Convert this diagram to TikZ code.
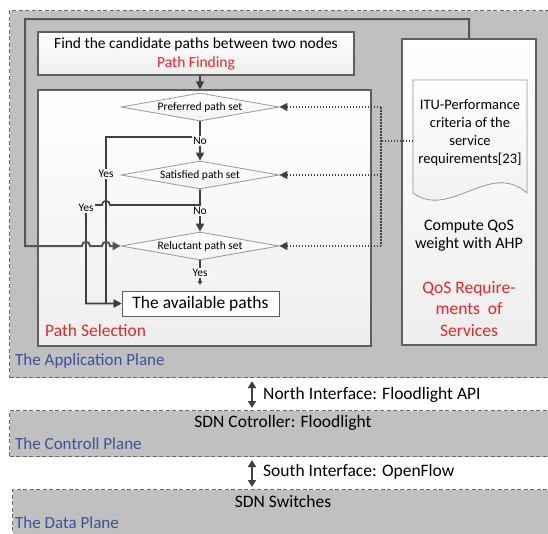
\documentclass[tikz,border=0pt]{standalone}
\usepackage{fontspec}
\setmainfont{Carlito}
\usetikzlibrary{arrows.meta,shapes.geometric}
\definecolor{planegray}{RGB}{192,192,192}
\definecolor{planeedge}{RGB}{105,105,105}
\definecolor{linegray}{RGB}{64,64,64}
\definecolor{frameline}{RGB}{85,85,85}
\definecolor{boxedge}{RGB}{95,95,95}
\definecolor{boxbot}{RGB}{238,238,238}
\definecolor{diaedge}{RGB}{150,150,150}
\definecolor{redtxt}{RGB}{232,38,38}
\definecolor{bluetxt}{RGB}{62,80,150}
\definecolor{ynbg}{RGB}{250,250,250}
\begin{document}
\begin{tikzpicture}[x=1pt,y=-1pt,
  plane/.style={draw=planeedge, dash pattern=on 4pt off 2.5pt, line width=1pt, fill=planegray, inner sep=0, anchor=north west},
  planelabel/.style={text=bluetxt, font=\fontsize{17}{20}\selectfont, anchor=west, inner sep=0},
  bigtext/.style={font=\fontsize{17.5}{21}\selectfont, inner sep=0},
  whitebox/.style={draw=boxedge, line width=1.2pt, inner sep=0, top color=white, bottom color=boxbot},
  decision/.style={diamond, draw=diaedge, line width=0.8pt, top color=white, bottom color=gray!10, minimum width=158pt, minimum height=28pt, inner sep=0, aspect=5.6, font=\fontsize{11.5}{13}\selectfont},
  flow/.style={draw=linegray, line width=1.6pt},
  tip/.style={-{Triangle[length=8pt,width=8pt]}},
  dots/.style={draw=linegray, line width=1.5pt, dash pattern=on 1.5pt off 1.5pt},
  yn/.style={font=\fontsize{11.5}{13}\selectfont, fill=ynbg, inner sep=1pt},
  biarrow/.style={draw=linegray, line width=2pt, {Triangle[length=7pt,width=8pt]}-{Triangle[length=7pt,width=8pt]}, shorten <=3pt, shorten >=2pt}
]
\useasboundingbox (0,0) rectangle (548,533);
\clip (0,0) rectangle (548,533);

% planes
\node[plane, minimum width=551pt, minimum height=367pt] (app) at (9,10) {};
\node[plane, minimum width=551pt, minimum height=46pt] (ctrl) at (9,410) {};
\node[plane, minimum width=548pt, minimum height=56pt] (data) at (12,489) {};
\node[planelabel] (applbl) at (15,361) {The Application Plane};
\node[planelabel] (ctrllbl) at (15,444) {The Controll Plane};
\node[planelabel] (datalbl) at (15,523) {The Data Plane};
\node[bigtext] (ctrltxt) at (283,423) {SDN Cotroller: Floodlight};
\node[bigtext] (datatxt) at (283,501) {SDN Switches};

% boxes
\node[whitebox, minimum width=316pt, minimum height=43pt, align=center, font=\fontsize{15.5}{19}\selectfont] (pf) at (196,53.5) {Find the candidate paths between two nodes\\\textcolor{redtxt}{Path Finding}};
\node[whitebox, minimum width=333pt, minimum height=256pt] (ps) at (204.5,218) {};
\node[bigtext, text=redtxt, anchor=west] (pslbl) at (45,330) {Path Selection};
\node[whitebox, minimum width=134pt, minimum height=306pt] (qos) at (469,192) {};

% document
\path[draw=diaedge, line width=0.8pt, top color=white, bottom color=gray!12] (413,80) -- (527,80) -- (527,193) .. controls (490,160) and (450,220) .. (413,193) -- cycle;
\coordinate (docw) at (413,141);
\node[align=center, font=\fontsize{14.5}{18}\selectfont, inner sep=0] (itu) at (470,133) {ITU-Performance\\criteria of the\\service\\requirements[23]};
\node[align=center, font=\fontsize{16}{18}\selectfont, inner sep=0] (ahp) at (469,236) {Compute QoS\\weight with AHP};
\node[align=center, font=\fontsize{17.5}{21.5}\selectfont, text=redtxt, inner sep=0] (qosreq) at (469,309) {QoS Require-\\ments\ \ of\\Services};

% decisions
\node[decision] (pref) at (200,107) {Preferred path set};
\node[decision] (sat) at (200,175) {Satisfied path set};
\node[decision] (rel) at (200,246) {Reluctant path set};
\node[draw=boxedge, line width=1pt, fill=white, minimum width=157pt, minimum height=25pt, inner sep=0, font=\fontsize{17.5}{21}\selectfont] (avail) at (200.5,303.5) {The available paths};

% helper coordinates
\coordinate (j1) at (200,137);
\coordinate (j2) at (200,205);
\coordinate (xa) at (106,0);
\coordinate (xb) at (86,0);
\coordinate (xc) at (200,0);
\coordinate (xd) at (381,0);
\coordinate (xn) at (252,0);
\coordinate (relend) at (200,285);

% flows
\draw[flow, tip] (pf.south -| xc) -- (ps.north -| xc);
\draw[flow, tip] (pref.south) -- (j1) -- (j1 -| xa) -- (avail.west -| xa) -- (avail.west);
\draw[flow, tip] (j1) -- (sat.north);
\draw[flow, tip] (sat.south) -- (j2) -- (110,205) .. controls (110,199.5) and (102,199.5) .. (102,205) -- (j2 -| xb) -- (avail.west -| xb) -- (avail.west);
\draw[flow, tip] (j2) -- (rel.north);
\draw[flow, -{Triangle[length=4pt,width=4.5pt]}] (rel.south) -- (relend);

% feedback frame
\draw[draw=frameline, line width=2pt, tip] (qos.north) -- (469,19) -- (25,19) -- (25,246) -- (82,246) .. controls (82,240.5) and (90,240.5) .. (90,246) -- (102,246) .. controls (102,240.5) and (110,240.5) .. (110,246) -- (rel.west);

% dotted
\draw[dots] (docw) -- (docw -| xd);
\draw[dots] (pref.east -| xd) -- (rel.east -| xd);
\draw[dots, tip] (pref.east -| xd) -- (pref.east);
\draw[dots, tip] (sat.east -| xd) -- (sat.east);
\draw[dots, tip] (rel.east -| xd) -- (rel.east);

% labels on flows
\node[yn] (no1) at (200,141) {No};
\node[yn] (no2) at (200,211) {No};
\node[yn] (yes1) at (106,174) {Yes};
\node[yn] (yes2) at (86,208) {Yes};
\node[yn] (yes3) at (200,273) {Yes};

% interfaces
\draw[biarrow] (app.south -| xn) -- (ctrl.north -| xn);
\draw[biarrow] (ctrl.south -| xn) -- (data.north -| xn);
\node[bigtext, anchor=west] (nif) at (263,395) {North Interface: Floodlight API};
\node[bigtext, anchor=west] (sif) at (263,472) {South Interface: OpenFlow};
\end{tikzpicture}
\end{document}
